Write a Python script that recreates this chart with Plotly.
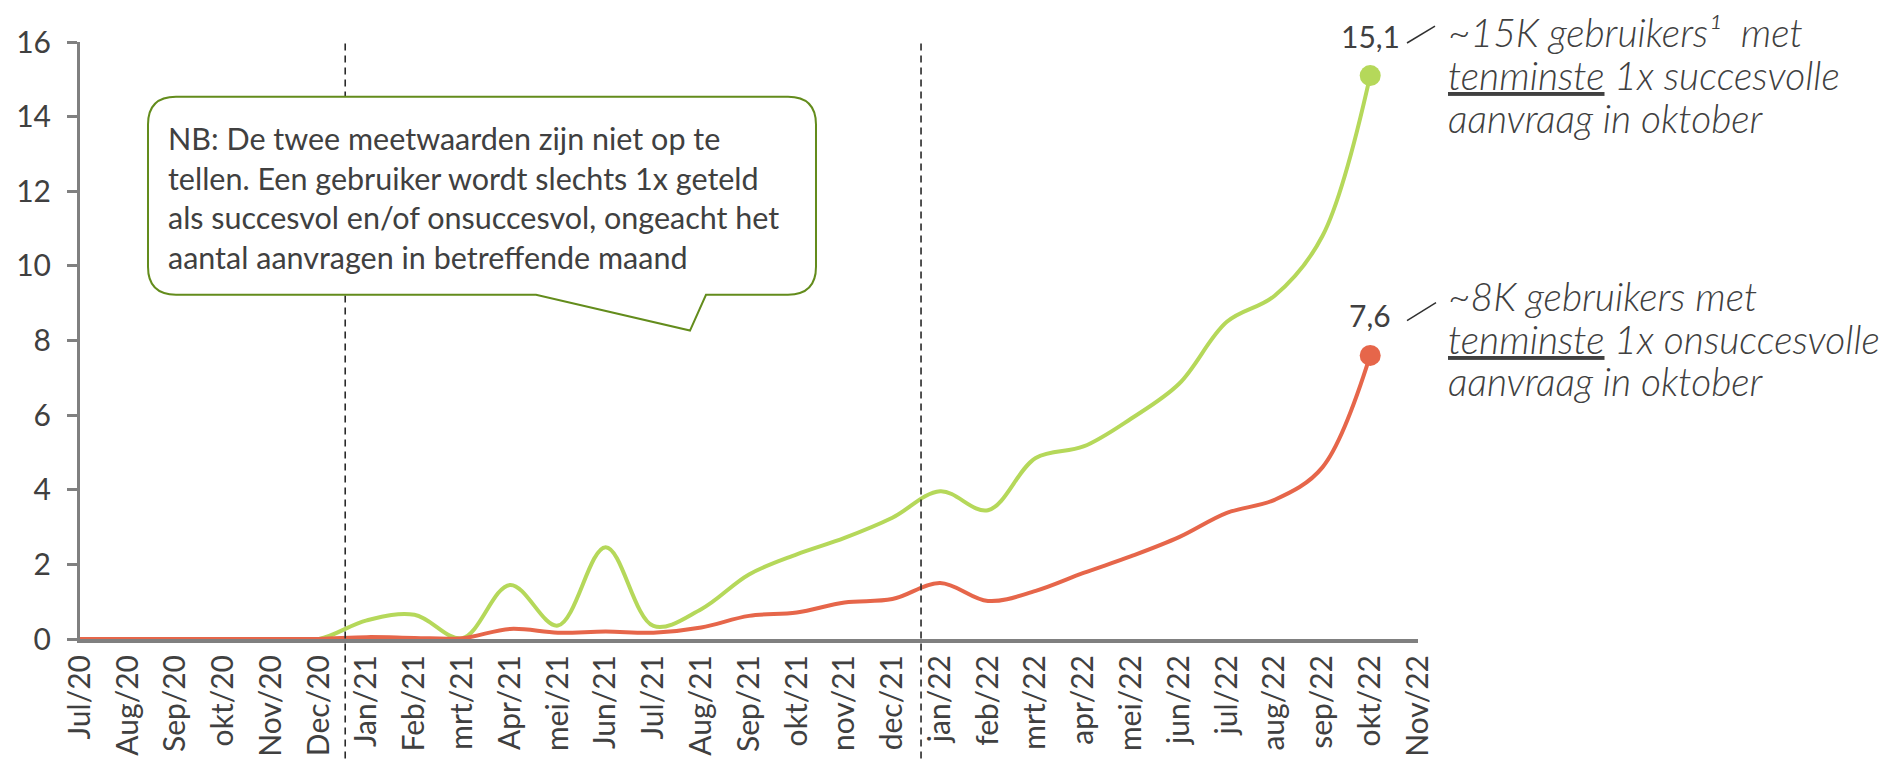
import plotly.graph_objects as go

# maanden (x-as)
months = ["Jul/20", "Aug/20", "Sep/20", "okt/20", "Nov/20", "Dec/20",
          "Jan/21", "Feb/21", "mrt/21", "Apr/21", "mei/21", "Jun/21",
          "Jul/21", "Aug/21", "Sep/21", "okt/21", "nov/21", "dec/21",
          "jan/22", "feb/22", "mrt/22", "apr/22", "mei/22", "jun/22",
          "jul/22", "aug/22", "sep/22", "okt/22", "Nov/22"]

# gebruikers (x1000) met tenminste 1x succesvolle aanvraag
succes = [0, 0, 0, 0, 0, 0, 0.5, 0.65, 0.02, 1.45, 0.36, 2.46,
          0.35, 0.8, 1.73, 2.27, 2.71, 3.25, 3.96, 3.45, 4.85, 5.16,
          5.91, 6.84, 8.5, 9.2, 10.8, 15.1]

# gebruikers (x1000) met tenminste 1x onsuccesvolle aanvraag
onsucces = [0, 0, 0, 0, 0, 0, 0.05, 0.03, 0.02, 0.27, 0.17, 0.2,
            0.17, 0.31, 0.62, 0.71, 0.98, 1.07, 1.5, 1.02, 1.29, 1.77,
            2.22, 2.73, 3.38, 3.73, 4.6, 7.6]

y_ticks = [0, 2, 4, 6, 8, 10, 12, 14, 16]
split_positions = [5.55, 17.6]  # stippellijnen tussen de jaren

GREEN = "#B5D85A"
RED = "#E6664A"
TXT = "#404040"
AXIS = "#808080"
BOX = "#638C1C"

W, H = 1904, 769
L, R, T, B = 80, 1418, 42, 642  # plotgebied in pixels


def px(x):
    return (x - L) / (R - L)


def py(y):
    return (B - y) / (B - T)


fig = go.Figure()
for vals, color in [(succes, GREEN), (onsucces, RED)]:
    fig.add_trace(go.Scatter(x=months[:len(vals)], y=vals, mode="lines",
                             line=dict(color=color, width=4, shape="spline", smoothing=1),
                             hoverinfo="skip", cliponaxis=False))
    fig.add_trace(go.Scatter(x=[months[len(vals) - 1]], y=[vals[-1]], mode="markers",
                             marker=dict(color=color, size=21), cliponaxis=False,
                             hoverinfo="skip"))
    fig.add_annotation(x=months[len(vals) - 1], y=vals[-1], xref="x", yref="y",
                       text=f"{vals[-1]:.1f}".replace(".", ","), showarrow=False,
                       yshift=40, font=dict(size=30, color=TXT))

shapes = []
for xs in split_positions:
    shapes.append(dict(type="line", xref="x", yref="paper", x0=xs, x1=xs,
                       y0=py(762), y1=1, line=dict(color="#2a2a2a", width=1.6, dash="7px,5px"),
                       layer="above"))

# tekstballon
bl, br, bt, bb, r = 148, 816, 97, 296, 28
pts = [("M", bl + r, bt), ("L", br - r, bt), ("Q", br, bt, br, bt + r),
       ("L", br, bb - r), ("Q", br, bb, br - r, bb), ("L", 706, bb),
       ("L", 690, 332), ("L", 536, bb), ("L", bl + r, bb),
       ("Q", bl, bb, bl, bb - r), ("L", bl, bt + r), ("Q", bl, bt, bl + r, bt)]
path = ""
for p in pts:
    coords = p[1:]
    s = []
    for i in range(0, len(coords), 2):
        s.append(f"{px(coords[i]):.5f},{py(coords[i + 1]):.5f}")
    path += p[0] + " " + " ".join(s) + " "
path += "Z"
shapes.append(dict(type="path", xref="paper", yref="paper", path=path,
                   fillcolor="white", line=dict(color=BOX, width=2), layer="above"))

# verbindingsstreepjes bij de labels
for x0, y0, x1, y1 in [(1407, 43, 1435, 26), (1407, 322, 1436, 304)]:
    shapes.append(dict(type="line", xref="paper", yref="paper",
                       x0=px(x0), y0=py(y0), x1=px(x1), y1=py(y1),
                       line=dict(color="#303030", width=1.5)))

fig.add_annotation(xref="paper", yref="paper", x=px(166), y=py(198),
                   xanchor="left", yanchor="middle", align="left", showarrow=False,
                   text="NB: De twee meetwaarden zijn niet op te<br>"
                        "tellen. Een gebruiker wordt slechts 1x geteld<br>"
                        "als succesvol en/of onsuccesvol, ongeacht het<br>"
                        "aantal aanvragen in betreffende maand",
                   font=dict(size=30.5, color=TXT))

right_lines = [
    (32, "~15K gebruikers¹  met"),
    (75, "<u>tenminste</u> 1x succesvolle"),
    (118, "aanvraag in oktober"),
    (297, "~8K gebruikers met"),
    (340, "<u>tenminste</u> 1x onsuccesvolle"),
    (383, "aanvraag in oktober"),
]
for yy, txt in right_lines:
    fig.add_annotation(xref="paper", yref="paper", x=px(1446), y=py(yy),
                       xanchor="left", yanchor="middle", align="left",
                       showarrow=False, text=txt,
                       font=dict(size=39, color=TXT, style="italic", weight=300))

fig.update_layout(
    width=W, height=H,
    margin=dict(l=L, r=W - R, t=T, b=H - B),
    paper_bgcolor="white", plot_bgcolor="white",
    font=dict(family="Lato", color=TXT),
    showlegend=False,
    shapes=shapes,
    xaxis=dict(type="category", categoryorder="array", categoryarray=months,
               range=[0, len(months) - 1], showgrid=False, zeroline=False,
               showline=True, linecolor=AXIS, linewidth=4, ticks="",
               tickangle=-90, tickfont=dict(size=30, color=TXT)),
    yaxis=dict(range=[0, 16], tickvals=y_ticks, showgrid=False, zeroline=False,
               showline=True, linecolor=AXIS, linewidth=3, ticks="outside",
               ticklen=10, tickwidth=3, tickcolor=AXIS,
               ticklabelstandoff=10, tickfont=dict(size=30, color=TXT)),
)

fig.write_html("out.html", config={"displayModeBar": False},
               post_script="document.body.style.margin='0';")
